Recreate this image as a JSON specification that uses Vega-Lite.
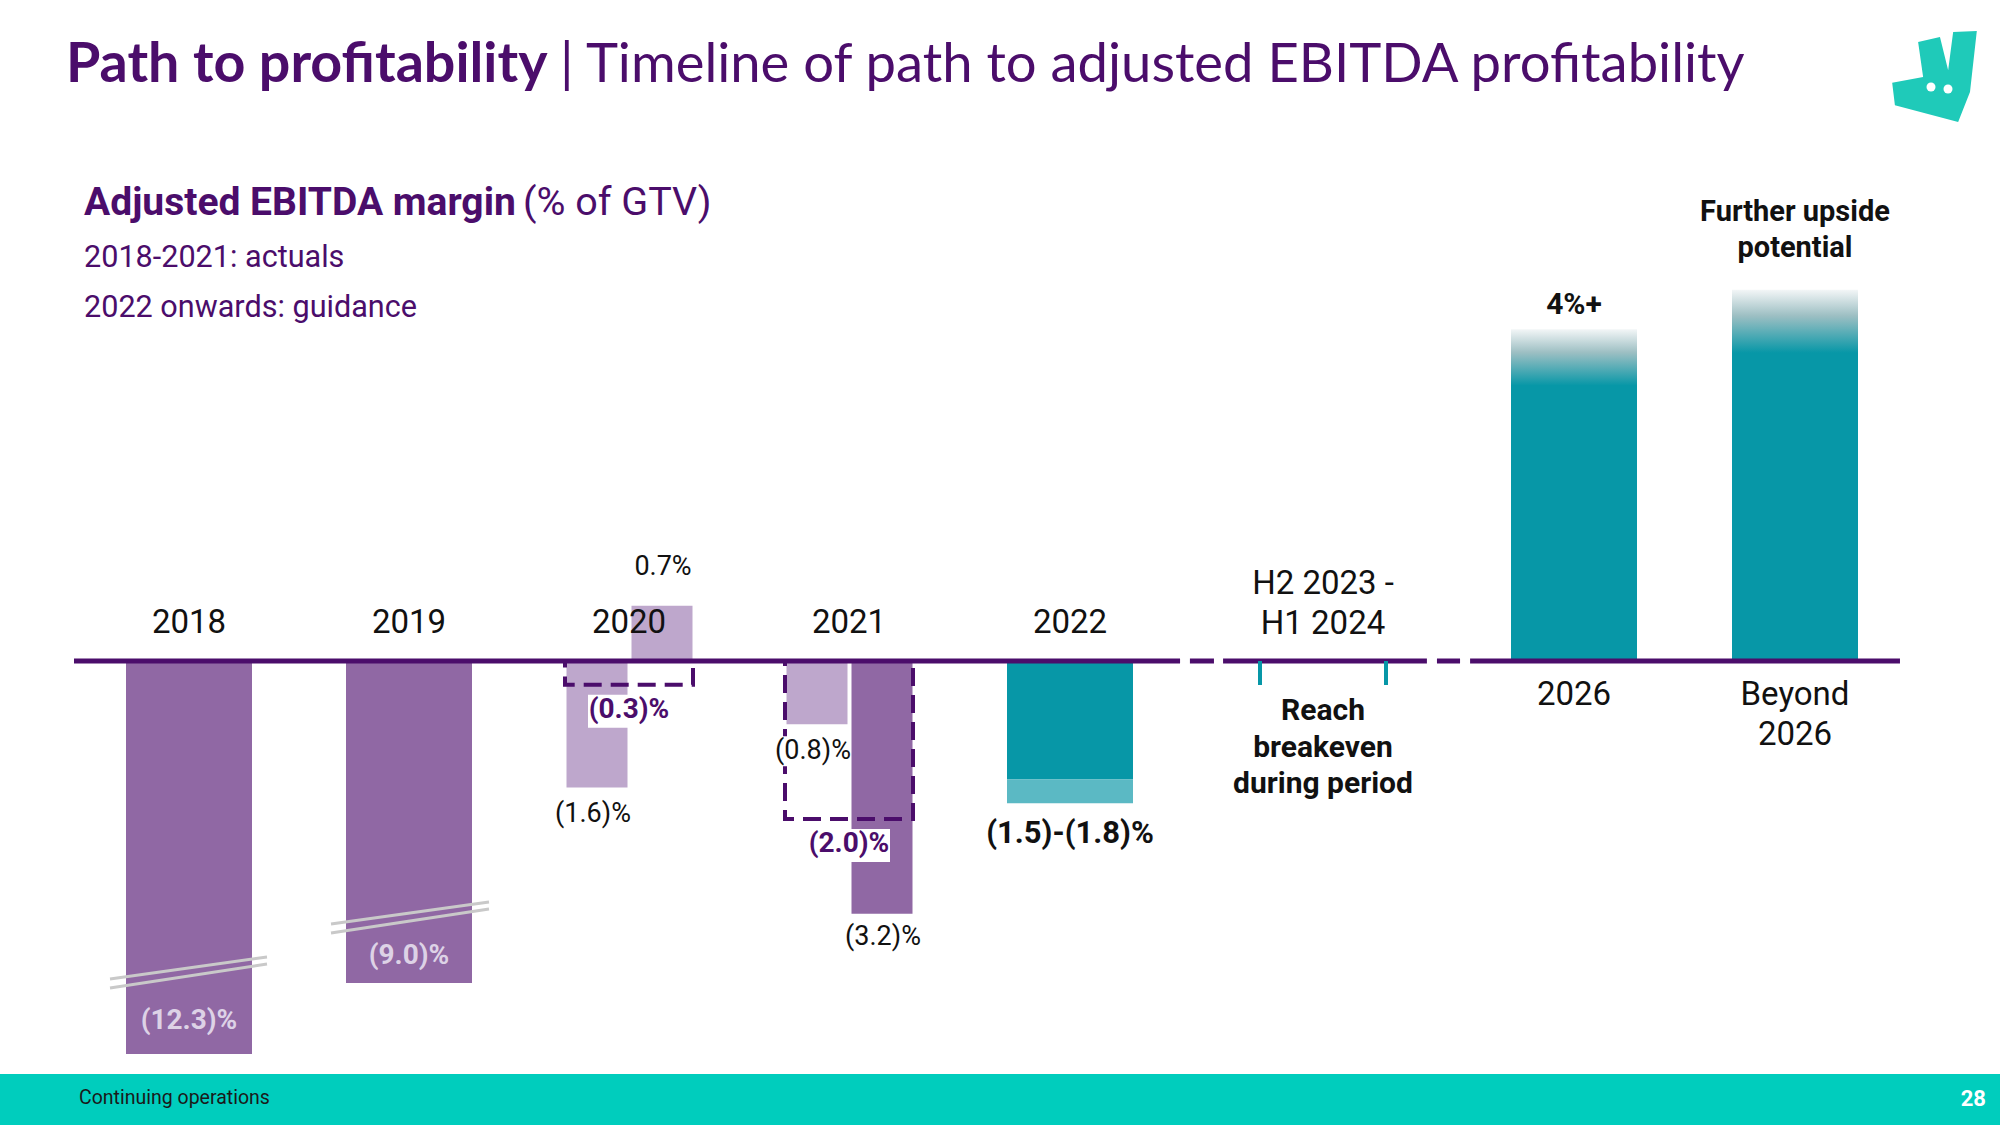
{
  "$schema": "https://vega.github.io/schema/vega-lite/v6.json",
  "width": 2000,
  "height": 1125,
  "autosize": {"type": "fit", "contains": "padding"},
  "padding": 0,
  "background": "#ffffff",
  "config": {"view": {"stroke": null}, "axis": {"disable": true}, "text": {"font": "Roboto"}, "scale": {"continuousPadding": 0}},
  "datasets": {
    "bars": [
      {"period": "2018", "i": 0, "part": "FY", "value": -12.3, "label": "(12.3)%"},
      {"period": "2019", "i": 1, "part": "FY", "value": -9.0, "label": "(9.0)%"},
      {"period": "2020", "i": 2, "part": "H1", "value": -1.6, "label": "(1.6)%"},
      {"period": "2020", "i": 2, "part": "H2", "value": 0.7, "label": "0.7%"},
      {"period": "2021", "i": 3, "part": "H1", "value": -0.8, "label": "(0.8)%"},
      {"period": "2021", "i": 3, "part": "H2", "value": -3.2, "label": "(3.2)%"}
    ],
    "fy": [
      {"period": "2020", "i": 2, "value": -0.3, "label": "(0.3)%"},
      {"period": "2021", "i": 3, "value": -2.0, "label": "(2.0)%"}
    ],
    "g2022": [
      {"period": "2022", "i": 4, "low": -1.5, "high": -1.8, "label": "(1.5)-(1.8)%"}
    ],
    "targets": [
      {"period": "2026", "i": 6, "value": 4.2, "label": "4%+"},
      {"period": "Beyond 2026", "i": 7, "value": 4.7, "label": "Further upside\npotential"}
    ],
    "periods": [
      {"i": 0, "label": "2018"},
      {"i": 1, "label": "2019"},
      {"i": 2, "label": "2020"},
      {"i": 3, "label": "2021"},
      {"i": 4, "label": "2022"},
      {"i": 5, "label": "H2 2023 -\nH1 2024"},
      {"i": 6, "label": "2026"},
      {"i": 7, "label": "Beyond\n2026"}
    ],
    "breakeven": [
      {"i": 5, "period": "H2 2023 - H1 2024", "note": "Reach\nbreakeven\nduring period"}
    ],
    "one": [{}]
  },
  "layer": [
    {
      "data": {"name": "one"},
      "mark": {"type": "rect", "x": 0, "x2": 2000, "y": 1074, "y2": 1125, "color": "#00cdbd"},
      "encoding": {}
    },
    {
      "data": {"name": "bars"},
      "transform": [{"filter": "datum.part === 'FY'"}],
      "mark": {"type": "bar", "width": 126, "color": "#9068a4"},
      "encoding": {
        "x": {"field": "i", "type": "quantitative", "scale": {"domain": [0, 1, 2, 3, 4, 5, 6, 7], "range": [189, 409, 629, 849, 1070, 1323, 1574, 1795], "nice": false, "zero": false, "padding": 0}},
        "y": {"field": "value", "type": "quantitative", "scale": {"domain": [-12.3, -9, -3.2, 5], "range": [1054, 983, 913.8, 266], "nice": false, "zero": false, "padding": 0}},
        "y2": {"datum": 0}
      }
    },
    {
      "data": {"name": "bars"},
      "transform": [{"filter": "datum.part === 'H1'"}],
      "mark": {"type": "bar", "width": 61, "xOffset": -32, "color": "#bea7cc"},
      "encoding": {
        "x": {"field": "i", "type": "quantitative", "scale": {"domain": [0, 1, 2, 3, 4, 5, 6, 7], "range": [189, 409, 629, 849, 1070, 1323, 1574, 1795], "nice": false, "zero": false, "padding": 0}},
        "y": {"field": "value", "type": "quantitative", "scale": {"domain": [-12.3, -9, -3.2, 5], "range": [1054, 983, 913.8, 266], "nice": false, "zero": false, "padding": 0}},
        "y2": {"datum": 0}
      }
    },
    {
      "data": {"name": "bars"},
      "transform": [{"filter": "datum.part === 'H2'"}],
      "mark": {"type": "bar", "width": 61, "xOffset": 33},
      "encoding": {
        "x": {"field": "i", "type": "quantitative", "scale": {"domain": [0, 1, 2, 3, 4, 5, 6, 7], "range": [189, 409, 629, 849, 1070, 1323, 1574, 1795], "nice": false, "zero": false, "padding": 0}},
        "y": {"field": "value", "type": "quantitative", "scale": {"domain": [-12.3, -9, -3.2, 5], "range": [1054, 983, 913.8, 266], "nice": false, "zero": false, "padding": 0}},
        "y2": {"datum": 0},
        "color": {"condition": {"test": "datum.period === '2021'", "value": "#9068a4"}, "value": "#bea7cc"}
      }
    },
    {
      "data": {"name": "g2022"},
      "mark": {"type": "bar", "width": 126, "color": "#0797a7"},
      "encoding": {
        "x": {"field": "i", "type": "quantitative", "scale": {"domain": [0, 1, 2, 3, 4, 5, 6, 7], "range": [189, 409, 629, 849, 1070, 1323, 1574, 1795], "nice": false, "zero": false, "padding": 0}},
        "y": {"field": "low", "type": "quantitative", "scale": {"domain": [-12.3, -9, -3.2, 5], "range": [1054, 983, 913.8, 266], "nice": false, "zero": false, "padding": 0}},
        "y2": {"datum": 0}
      }
    },
    {
      "data": {"name": "g2022"},
      "mark": {"type": "bar", "width": 126, "color": "#5bb9c4"},
      "encoding": {
        "x": {"field": "i", "type": "quantitative", "scale": {"domain": [0, 1, 2, 3, 4, 5, 6, 7], "range": [189, 409, 629, 849, 1070, 1323, 1574, 1795], "nice": false, "zero": false, "padding": 0}},
        "y": {"field": "low", "type": "quantitative", "scale": {"domain": [-12.3, -9, -3.2, 5], "range": [1054, 983, 913.8, 266], "nice": false, "zero": false, "padding": 0}},
        "y2": {"field": "high"}
      }
    },
    {
      "data": {"name": "targets"},
      "mark": {"type": "bar", "width": 126, "fill": {"gradient": "linear", "x1": 0, "y1": 0, "x2": 0, "y2": 1, "stops": [{"offset": 0, "color": "#f3f6f7"}, {"offset": 0.07, "color": "#9dbfc3"}, {"offset": 0.17, "color": "#0797a7"}, {"offset": 1, "color": "#0797a7"}]}},
      "encoding": {
        "x": {"field": "i", "type": "quantitative", "scale": {"domain": [0, 1, 2, 3, 4, 5, 6, 7], "range": [189, 409, 629, 849, 1070, 1323, 1574, 1795], "nice": false, "zero": false, "padding": 0}},
        "y": {"field": "value", "type": "quantitative", "scale": {"domain": [-12.3, -9, -3.2, 5], "range": [1054, 983, 913.8, 266], "nice": false, "zero": false, "padding": 0}},
        "y2": {"datum": 0}
      }
    },
    {
      "data": {"name": "fy"},
      "mark": {"type": "bar", "width": 128, "fill": "transparent", "stroke": "#4b0d6b", "strokeWidth": 4, "strokeDash": [18, 9]},
      "encoding": {
        "x": {"field": "i", "type": "quantitative", "scale": {"domain": [0, 1, 2, 3, 4, 5, 6, 7], "range": [189, 409, 629, 849, 1070, 1323, 1574, 1795], "nice": false, "zero": false, "padding": 0}},
        "y": {"field": "value", "type": "quantitative", "scale": {"domain": [-12.3, -9, -3.2, 5], "range": [1054, 983, 913.8, 266], "nice": false, "zero": false, "padding": 0}},
        "y2": {"datum": 0}
      }
    },
    {
      "data": {"name": "fy"},
      "mark": {"type": "bar", "width": 82, "yOffset": 10, "y2Offset": 43, "color": "#ffffff"},
      "encoding": {
        "x": {"field": "i", "type": "quantitative", "scale": {"domain": [0, 1, 2, 3, 4, 5, 6, 7], "range": [189, 409, 629, 849, 1070, 1323, 1574, 1795], "nice": false, "zero": false, "padding": 0}},
        "y": {"field": "value", "type": "quantitative", "scale": {"domain": [-12.3, -9, -3.2, 5], "range": [1054, 983, 913.8, 266], "nice": false, "zero": false, "padding": 0}},
        "y2": {"field": "value"}
      }
    },
    {
      "data": {"name": "bars"},
      "transform": [{"filter": "datum.part === 'H1'"}],
      "mark": {"type": "bar", "width": 76, "xOffset": -37, "yOffset": 12, "y2Offset": 42, "color": "#ffffff"},
      "encoding": {
        "x": {"field": "i", "type": "quantitative", "scale": {"domain": [0, 1, 2, 3, 4, 5, 6, 7], "range": [189, 409, 629, 849, 1070, 1323, 1574, 1795], "nice": false, "zero": false, "padding": 0}},
        "y": {"field": "value", "type": "quantitative", "scale": {"domain": [-12.3, -9, -3.2, 5], "range": [1054, 983, 913.8, 266], "nice": false, "zero": false, "padding": 0}},
        "y2": {"field": "value"}
      }
    },
    {
      "data": {"name": "one"},
      "mark": {"type": "rule", "color": "#4b0d6b", "strokeWidth": 5},
      "encoding": {
        "x": {"datum": -0.5227, "type": "quantitative", "scale": {"domain": [0, 1, 2, 3, 4, 5, 6, 7], "range": [189, 409, 629, 849, 1070, 1323, 1574, 1795], "nice": false, "zero": false, "padding": 0}},
        "x2": {"datum": 4.435},
        "y": {"datum": 0, "type": "quantitative", "scale": {"domain": [-12.3, -9, -3.2, 5], "range": [1054, 983, 913.8, 266], "nice": false, "zero": false, "padding": 0}}
      }
    },
    {
      "data": {"name": "one"},
      "mark": {"type": "rule", "color": "#4b0d6b", "strokeWidth": 5},
      "encoding": {
        "x": {"datum": 4.474, "type": "quantitative", "scale": {"domain": [0, 1, 2, 3, 4, 5, 6, 7], "range": [189, 409, 629, 849, 1070, 1323, 1574, 1795], "nice": false, "zero": false, "padding": 0}},
        "x2": {"datum": 4.569},
        "y": {"datum": 0, "type": "quantitative", "scale": {"domain": [-12.3, -9, -3.2, 5], "range": [1054, 983, 913.8, 266], "nice": false, "zero": false, "padding": 0}}
      }
    },
    {
      "data": {"name": "one"},
      "mark": {"type": "rule", "color": "#4b0d6b", "strokeWidth": 5},
      "encoding": {
        "x": {"datum": 4.605, "type": "quantitative", "scale": {"domain": [0, 1, 2, 3, 4, 5, 6, 7], "range": [189, 409, 629, 849, 1070, 1323, 1574, 1795], "nice": false, "zero": false, "padding": 0}},
        "x2": {"datum": 5.414},
        "y": {"datum": 0, "type": "quantitative", "scale": {"domain": [-12.3, -9, -3.2, 5], "range": [1054, 983, 913.8, 266], "nice": false, "zero": false, "padding": 0}}
      }
    },
    {
      "data": {"name": "one"},
      "mark": {"type": "rule", "color": "#4b0d6b", "strokeWidth": 5},
      "encoding": {
        "x": {"datum": 5.454, "type": "quantitative", "scale": {"domain": [0, 1, 2, 3, 4, 5, 6, 7], "range": [189, 409, 629, 849, 1070, 1323, 1574, 1795], "nice": false, "zero": false, "padding": 0}},
        "x2": {"datum": 5.546},
        "y": {"datum": 0, "type": "quantitative", "scale": {"domain": [-12.3, -9, -3.2, 5], "range": [1054, 983, 913.8, 266], "nice": false, "zero": false, "padding": 0}}
      }
    },
    {
      "data": {"name": "one"},
      "mark": {"type": "rule", "color": "#4b0d6b", "strokeWidth": 5},
      "encoding": {
        "x": {"datum": 5.586, "type": "quantitative", "scale": {"domain": [0, 1, 2, 3, 4, 5, 6, 7], "range": [189, 409, 629, 849, 1070, 1323, 1574, 1795], "nice": false, "zero": false, "padding": 0}},
        "x2": {"datum": 7.475},
        "y": {"datum": 0, "type": "quantitative", "scale": {"domain": [-12.3, -9, -3.2, 5], "range": [1054, 983, 913.8, 266], "nice": false, "zero": false, "padding": 0}}
      }
    },
    {
      "data": {"name": "bars"},
      "transform": [{"filter": "datum.i === 0"}],
      "mark": {"type": "rule", "color": "#c9c9c9", "strokeWidth": 3, "xOffset": -79, "x2Offset": 78, "yOffset": -75, "y2Offset": -97},
      "encoding": {
        "x": {"field": "i", "type": "quantitative", "scale": {"domain": [0, 1, 2, 3, 4, 5, 6, 7], "range": [189, 409, 629, 849, 1070, 1323, 1574, 1795], "nice": false, "zero": false, "padding": 0}},
        "x2": {"field": "i"},
        "y": {"field": "value", "type": "quantitative", "scale": {"domain": [-12.3, -9, -3.2, 5], "range": [1054, 983, 913.8, 266], "nice": false, "zero": false, "padding": 0}},
        "y2": {"field": "value"}
      }
    },
    {
      "data": {"name": "bars"},
      "transform": [{"filter": "datum.i === 0"}],
      "mark": {"type": "rule", "color": "#c9c9c9", "strokeWidth": 3, "xOffset": -79, "x2Offset": 78, "yOffset": -66, "y2Offset": -90},
      "encoding": {
        "x": {"field": "i", "type": "quantitative", "scale": {"domain": [0, 1, 2, 3, 4, 5, 6, 7], "range": [189, 409, 629, 849, 1070, 1323, 1574, 1795], "nice": false, "zero": false, "padding": 0}},
        "x2": {"field": "i"},
        "y": {"field": "value", "type": "quantitative", "scale": {"domain": [-12.3, -9, -3.2, 5], "range": [1054, 983, 913.8, 266], "nice": false, "zero": false, "padding": 0}},
        "y2": {"field": "value"}
      }
    },
    {
      "data": {"name": "bars"},
      "transform": [{"filter": "datum.i === 1"}],
      "mark": {"type": "rule", "color": "#c9c9c9", "strokeWidth": 3, "xOffset": -78, "x2Offset": 80, "yOffset": -59, "y2Offset": -81},
      "encoding": {
        "x": {"field": "i", "type": "quantitative", "scale": {"domain": [0, 1, 2, 3, 4, 5, 6, 7], "range": [189, 409, 629, 849, 1070, 1323, 1574, 1795], "nice": false, "zero": false, "padding": 0}},
        "x2": {"field": "i"},
        "y": {"field": "value", "type": "quantitative", "scale": {"domain": [-12.3, -9, -3.2, 5], "range": [1054, 983, 913.8, 266], "nice": false, "zero": false, "padding": 0}},
        "y2": {"field": "value"}
      }
    },
    {
      "data": {"name": "bars"},
      "transform": [{"filter": "datum.i === 1"}],
      "mark": {"type": "rule", "color": "#c9c9c9", "strokeWidth": 3, "xOffset": -78, "x2Offset": 80, "yOffset": -50, "y2Offset": -74},
      "encoding": {
        "x": {"field": "i", "type": "quantitative", "scale": {"domain": [0, 1, 2, 3, 4, 5, 6, 7], "range": [189, 409, 629, 849, 1070, 1323, 1574, 1795], "nice": false, "zero": false, "padding": 0}},
        "x2": {"field": "i"},
        "y": {"field": "value", "type": "quantitative", "scale": {"domain": [-12.3, -9, -3.2, 5], "range": [1054, 983, 913.8, 266], "nice": false, "zero": false, "padding": 0}},
        "y2": {"field": "value"}
      }
    },
    {
      "data": {"name": "breakeven"},
      "mark": {"type": "rule", "color": "#0797a7", "strokeWidth": 4, "xOffset": -63, "y2Offset": 24},
      "encoding": {
        "x": {"field": "i", "type": "quantitative", "scale": {"domain": [0, 1, 2, 3, 4, 5, 6, 7], "range": [189, 409, 629, 849, 1070, 1323, 1574, 1795], "nice": false, "zero": false, "padding": 0}},
        "y": {"datum": 0, "type": "quantitative", "scale": {"domain": [-12.3, -9, -3.2, 5], "range": [1054, 983, 913.8, 266], "nice": false, "zero": false, "padding": 0}},
        "y2": {"datum": 0}
      }
    },
    {
      "data": {"name": "breakeven"},
      "mark": {"type": "rule", "color": "#0797a7", "strokeWidth": 4, "xOffset": 63, "y2Offset": 24},
      "encoding": {
        "x": {"field": "i", "type": "quantitative", "scale": {"domain": [0, 1, 2, 3, 4, 5, 6, 7], "range": [189, 409, 629, 849, 1070, 1323, 1574, 1795], "nice": false, "zero": false, "padding": 0}},
        "y": {"datum": 0, "type": "quantitative", "scale": {"domain": [-12.3, -9, -3.2, 5], "range": [1054, 983, 913.8, 266], "nice": false, "zero": false, "padding": 0}},
        "y2": {"datum": 0}
      }
    },
    {
      "data": {"name": "periods"},
      "transform": [{"filter": "datum.i <= 4"}],
      "mark": {"type": "text", "fontSize": 33, "color": "#111111", "align": "center", "baseline": "alphabetic", "dy": -28},
      "encoding": {
        "x": {"field": "i", "type": "quantitative", "scale": {"domain": [0, 1, 2, 3, 4, 5, 6, 7], "range": [189, 409, 629, 849, 1070, 1323, 1574, 1795], "nice": false, "zero": false, "padding": 0}},
        "y": {"datum": 0, "type": "quantitative", "scale": {"domain": [-12.3, -9, -3.2, 5], "range": [1054, 983, 913.8, 266], "nice": false, "zero": false, "padding": 0}},
        "text": {"field": "label"}
      }
    },
    {
      "data": {"name": "periods"},
      "transform": [{"filter": "datum.i === 5"}],
      "mark": {"type": "text", "fontSize": 33, "color": "#111111", "align": "center", "baseline": "alphabetic", "dy": -67, "lineBreak": "\n", "lineHeight": 40},
      "encoding": {
        "x": {"field": "i", "type": "quantitative", "scale": {"domain": [0, 1, 2, 3, 4, 5, 6, 7], "range": [189, 409, 629, 849, 1070, 1323, 1574, 1795], "nice": false, "zero": false, "padding": 0}},
        "y": {"datum": 0, "type": "quantitative", "scale": {"domain": [-12.3, -9, -3.2, 5], "range": [1054, 983, 913.8, 266], "nice": false, "zero": false, "padding": 0}},
        "text": {"field": "label"}
      }
    },
    {
      "data": {"name": "periods"},
      "transform": [{"filter": "datum.i >= 6"}],
      "mark": {"type": "text", "fontSize": 33, "color": "#111111", "align": "center", "baseline": "alphabetic", "dy": 44, "lineBreak": "\n", "lineHeight": 40},
      "encoding": {
        "x": {"field": "i", "type": "quantitative", "scale": {"domain": [0, 1, 2, 3, 4, 5, 6, 7], "range": [189, 409, 629, 849, 1070, 1323, 1574, 1795], "nice": false, "zero": false, "padding": 0}},
        "y": {"datum": 0, "type": "quantitative", "scale": {"domain": [-12.3, -9, -3.2, 5], "range": [1054, 983, 913.8, 266], "nice": false, "zero": false, "padding": 0}},
        "text": {"field": "label"}
      }
    },
    {
      "data": {"name": "bars"},
      "transform": [{"filter": "datum.i === 0"}],
      "mark": {"type": "text", "fontSize": 28, "fontWeight": "bold", "color": "#ddd2e6", "align": "center", "baseline": "alphabetic", "dy": -25},
      "encoding": {
        "x": {"field": "i", "type": "quantitative", "scale": {"domain": [0, 1, 2, 3, 4, 5, 6, 7], "range": [189, 409, 629, 849, 1070, 1323, 1574, 1795], "nice": false, "zero": false, "padding": 0}},
        "y": {"field": "value", "type": "quantitative", "scale": {"domain": [-12.3, -9, -3.2, 5], "range": [1054, 983, 913.8, 266], "nice": false, "zero": false, "padding": 0}},
        "text": {"field": "label"}
      }
    },
    {
      "data": {"name": "bars"},
      "transform": [{"filter": "datum.i === 1"}],
      "mark": {"type": "text", "fontSize": 28, "fontWeight": "bold", "color": "#ddd2e6", "align": "center", "baseline": "alphabetic", "dy": -19},
      "encoding": {
        "x": {"field": "i", "type": "quantitative", "scale": {"domain": [0, 1, 2, 3, 4, 5, 6, 7], "range": [189, 409, 629, 849, 1070, 1323, 1574, 1795], "nice": false, "zero": false, "padding": 0}},
        "y": {"field": "value", "type": "quantitative", "scale": {"domain": [-12.3, -9, -3.2, 5], "range": [1054, 983, 913.8, 266], "nice": false, "zero": false, "padding": 0}},
        "text": {"field": "label"}
      }
    },
    {
      "data": {"name": "bars"},
      "transform": [{"filter": "datum.part === 'H1'"}],
      "mark": {"type": "text", "fontSize": 27, "color": "#111111", "align": "center", "baseline": "alphabetic", "dx": -36, "dy": 35},
      "encoding": {
        "x": {"field": "i", "type": "quantitative", "scale": {"domain": [0, 1, 2, 3, 4, 5, 6, 7], "range": [189, 409, 629, 849, 1070, 1323, 1574, 1795], "nice": false, "zero": false, "padding": 0}},
        "y": {"field": "value", "type": "quantitative", "scale": {"domain": [-12.3, -9, -3.2, 5], "range": [1054, 983, 913.8, 266], "nice": false, "zero": false, "padding": 0}},
        "text": {"field": "label"}
      }
    },
    {
      "data": {"name": "bars"},
      "transform": [{"filter": "datum.part === 'H2' && datum.value < 0"}],
      "mark": {"type": "text", "fontSize": 27, "color": "#111111", "align": "center", "baseline": "alphabetic", "dx": 34, "dy": 31},
      "encoding": {
        "x": {"field": "i", "type": "quantitative", "scale": {"domain": [0, 1, 2, 3, 4, 5, 6, 7], "range": [189, 409, 629, 849, 1070, 1323, 1574, 1795], "nice": false, "zero": false, "padding": 0}},
        "y": {"field": "value", "type": "quantitative", "scale": {"domain": [-12.3, -9, -3.2, 5], "range": [1054, 983, 913.8, 266], "nice": false, "zero": false, "padding": 0}},
        "text": {"field": "label"}
      }
    },
    {
      "data": {"name": "bars"},
      "transform": [{"filter": "datum.part === 'H2' && datum.value > 0"}],
      "mark": {"type": "text", "fontSize": 27, "color": "#111111", "align": "center", "baseline": "alphabetic", "dx": 34, "dy": -31},
      "encoding": {
        "x": {"field": "i", "type": "quantitative", "scale": {"domain": [0, 1, 2, 3, 4, 5, 6, 7], "range": [189, 409, 629, 849, 1070, 1323, 1574, 1795], "nice": false, "zero": false, "padding": 0}},
        "y": {"field": "value", "type": "quantitative", "scale": {"domain": [-12.3, -9, -3.2, 5], "range": [1054, 983, 913.8, 266], "nice": false, "zero": false, "padding": 0}},
        "text": {"field": "label"}
      }
    },
    {
      "data": {"name": "fy"},
      "mark": {"type": "text", "fontSize": 28, "fontWeight": "bold", "color": "#4b0d6b", "align": "center", "baseline": "alphabetic", "dy": 33},
      "encoding": {
        "x": {"field": "i", "type": "quantitative", "scale": {"domain": [0, 1, 2, 3, 4, 5, 6, 7], "range": [189, 409, 629, 849, 1070, 1323, 1574, 1795], "nice": false, "zero": false, "padding": 0}},
        "y": {"field": "value", "type": "quantitative", "scale": {"domain": [-12.3, -9, -3.2, 5], "range": [1054, 983, 913.8, 266], "nice": false, "zero": false, "padding": 0}},
        "text": {"field": "label"}
      }
    },
    {
      "data": {"name": "g2022"},
      "mark": {"type": "text", "fontSize": 31, "fontWeight": "bold", "color": "#111111", "align": "center", "baseline": "alphabetic", "dy": 40},
      "encoding": {
        "x": {"field": "i", "type": "quantitative", "scale": {"domain": [0, 1, 2, 3, 4, 5, 6, 7], "range": [189, 409, 629, 849, 1070, 1323, 1574, 1795], "nice": false, "zero": false, "padding": 0}},
        "y": {"field": "high", "type": "quantitative", "scale": {"domain": [-12.3, -9, -3.2, 5], "range": [1054, 983, 913.8, 266], "nice": false, "zero": false, "padding": 0}},
        "text": {"field": "label"}
      }
    },
    {
      "data": {"name": "targets"},
      "transform": [{"filter": "datum.i === 6"}],
      "mark": {"type": "text", "fontSize": 30, "fontWeight": "bold", "color": "#111111", "align": "center", "baseline": "alphabetic", "dy": -15},
      "encoding": {
        "x": {"field": "i", "type": "quantitative", "scale": {"domain": [0, 1, 2, 3, 4, 5, 6, 7], "range": [189, 409, 629, 849, 1070, 1323, 1574, 1795], "nice": false, "zero": false, "padding": 0}},
        "y": {"field": "value", "type": "quantitative", "scale": {"domain": [-12.3, -9, -3.2, 5], "range": [1054, 983, 913.8, 266], "nice": false, "zero": false, "padding": 0}},
        "text": {"field": "label"}
      }
    },
    {
      "data": {"name": "targets"},
      "transform": [{"filter": "datum.i === 7"}],
      "mark": {"type": "text", "fontSize": 29, "fontWeight": "bold", "color": "#111111", "align": "center", "baseline": "alphabetic", "dy": -69, "lineBreak": "\n", "lineHeight": 36},
      "encoding": {
        "x": {"field": "i", "type": "quantitative", "scale": {"domain": [0, 1, 2, 3, 4, 5, 6, 7], "range": [189, 409, 629, 849, 1070, 1323, 1574, 1795], "nice": false, "zero": false, "padding": 0}},
        "y": {"field": "value", "type": "quantitative", "scale": {"domain": [-12.3, -9, -3.2, 5], "range": [1054, 983, 913.8, 266], "nice": false, "zero": false, "padding": 0}},
        "text": {"field": "label"}
      }
    },
    {
      "data": {"name": "breakeven"},
      "mark": {"type": "text", "fontSize": 30, "fontWeight": "bold", "color": "#111111", "align": "center", "baseline": "alphabetic", "dy": 59, "lineBreak": "\n", "lineHeight": 36.5},
      "encoding": {
        "x": {"field": "i", "type": "quantitative", "scale": {"domain": [0, 1, 2, 3, 4, 5, 6, 7], "range": [189, 409, 629, 849, 1070, 1323, 1574, 1795], "nice": false, "zero": false, "padding": 0}},
        "y": {"datum": 0, "type": "quantitative", "scale": {"domain": [-12.3, -9, -3.2, 5], "range": [1054, 983, 913.8, 266], "nice": false, "zero": false, "padding": 0}},
        "text": {"field": "note"}
      }
    },
    {
      "data": {"name": "one"},
      "mark": {"type": "text", "x": 66, "y": 82, "text": "Path to profitability", "font": "Lato", "fontSize": 55.6, "fontWeight": "bold", "color": "#4b0d6b", "align": "left", "baseline": "alphabetic"},
      "encoding": {}
    },
    {
      "data": {"name": "one"},
      "mark": {"type": "text", "x": 560, "y": 82, "text": "| Timeline of path to adjusted EBITDA profitability", "font": "Lato", "fontSize": 54.4, "color": "#4b0d6b", "align": "left", "baseline": "alphabetic"},
      "encoding": {}
    },
    {
      "data": {"name": "one"},
      "mark": {"type": "text", "x": 84, "y": 215, "text": "Adjusted EBITDA margin", "fontSize": 39, "fontWeight": "bold", "color": "#4b0d6b", "align": "left", "baseline": "alphabetic"},
      "encoding": {}
    },
    {
      "data": {"name": "one"},
      "mark": {"type": "text", "x": 523, "y": 215, "text": "(% of GTV)", "fontSize": 39.5, "color": "#4b0d6b", "align": "left", "baseline": "alphabetic"},
      "encoding": {}
    },
    {
      "data": {"name": "one"},
      "mark": {"type": "text", "x": 84, "y": 267, "text": "2018-2021: actuals", "fontSize": 30.6, "color": "#4b0d6b", "align": "left", "baseline": "alphabetic"},
      "encoding": {}
    },
    {
      "data": {"name": "one"},
      "mark": {"type": "text", "x": 84, "y": 317, "text": "2022 onwards: guidance", "fontSize": 30.6, "color": "#4b0d6b", "align": "left", "baseline": "alphabetic"},
      "encoding": {}
    },
    {
      "data": {"name": "one"},
      "mark": {"type": "text", "x": 79, "y": 1104, "text": "Continuing operations", "fontSize": 19.5, "color": "#1a1a1a", "align": "left", "baseline": "alphabetic"},
      "encoding": {}
    },
    {
      "data": {"name": "one"},
      "mark": {"type": "text", "x": 1986, "y": 1106, "text": "28", "fontSize": 22, "fontWeight": "bold", "color": "#ffffff", "align": "right", "baseline": "alphabetic"},
      "encoding": {}
    },
    {
      "data": {"name": "one"},
      "mark": {"type": "point", "shape": "M-0.36,-0.76L0.12,-0.87L0.3,-0.14L0.41,-0.98L0.93,-1L0.78,0.34L0.52,1L-0.87,0.63L-0.93,0.14L-0.25,0.01Z", "x": 1934.5, "y": 76.5, "size": 8281, "filled": true, "color": "#1fcab9", "opacity": 1, "strokeWidth": 0},
      "encoding": {}
    },
    {
      "data": {"name": "one"},
      "mark": {"type": "point", "shape": "circle", "x": 1931, "y": 87, "size": 81, "filled": true, "color": "#ffffff", "opacity": 1},
      "encoding": {}
    },
    {
      "data": {"name": "one"},
      "mark": {"type": "point", "shape": "circle", "x": 1948, "y": 89, "size": 81, "filled": true, "color": "#ffffff", "opacity": 1},
      "encoding": {}
    }
  ]
}
